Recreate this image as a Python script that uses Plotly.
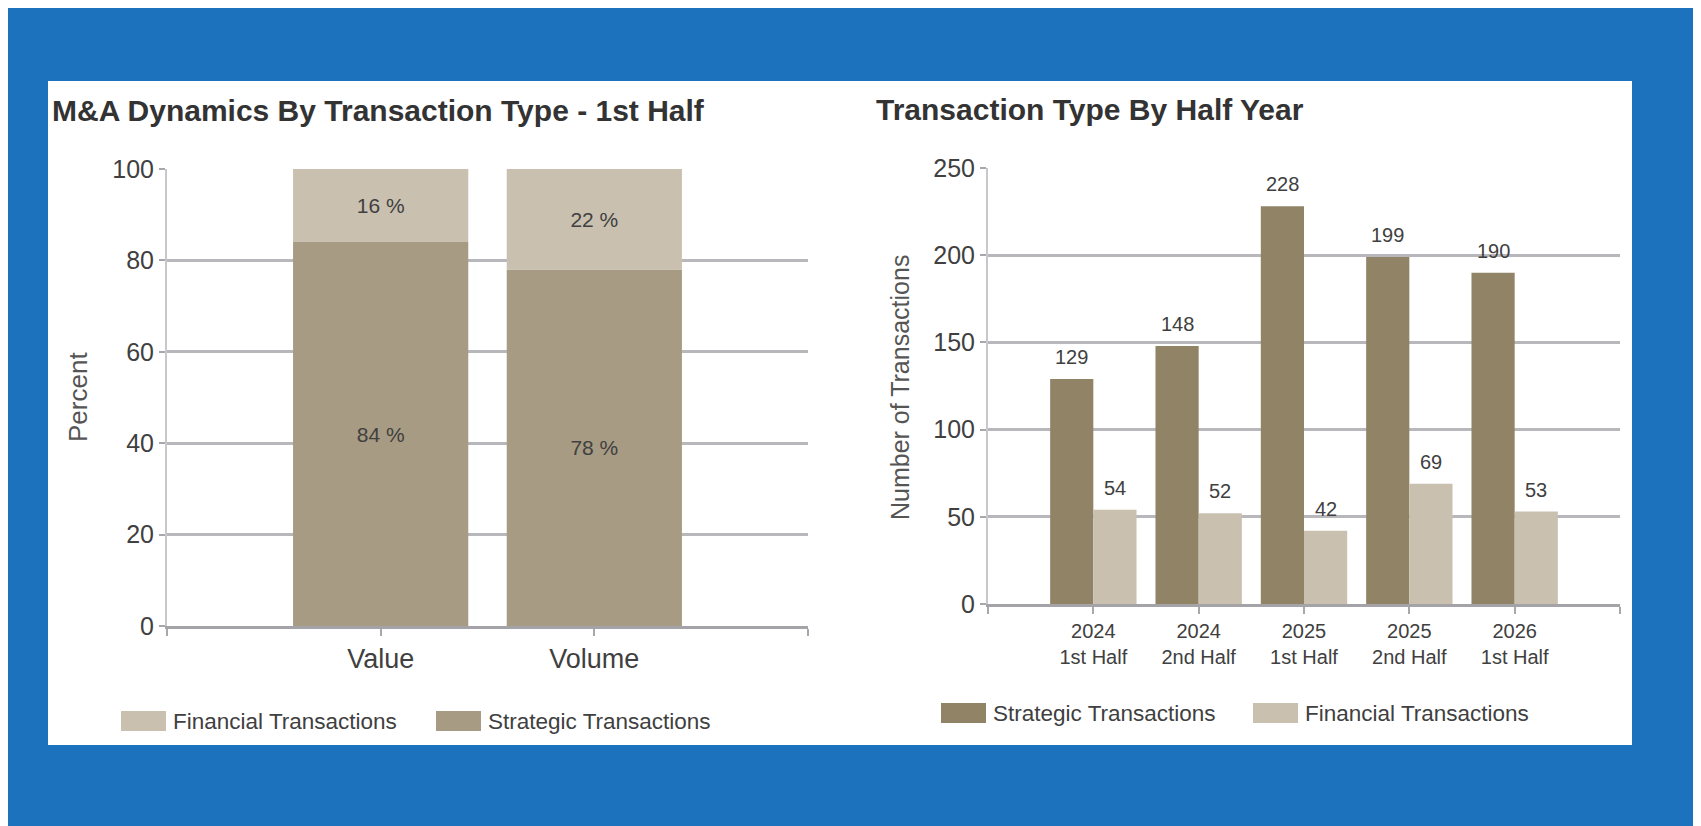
import plotly.graph_objects as go
from plotly.subplots import make_subplots

# left chart data (percent shares, 1st half)
share_cats = ["Value", "Volume"]
share_strategic = [84, 78]
share_financial = [16, 22]

# right chart data (number of transactions)
half_cats = ["2024<br>1st Half", "2024<br>2nd Half", "2025<br>1st Half",
             "2025<br>2nd Half", "2026<br>1st Half"]
count_strategic = [129, 148, 228, 199, 190]
count_financial = [54, 52, 42, 69, 53]

W, H = 1701, 826
OFF = 8  # page body margin, so positions below are window pixels
FONT = "Liberation Sans, Arial, sans-serif"
BLUE = "#1d72be"
STRAT_L = "#a79b83"
STRAT_R = "#918466"
FIN = "#c9c0b0"
GRID = "#b8b8bc"
TXT = "#404040"


def px_x(v):
    return (v - OFF) / W


def px_y(v):
    return 1 - (v - OFF) / H


fig = make_subplots(rows=1, cols=2)

# left: stacked by giving the financial bars a base
fig.add_trace(go.Bar(
    x=share_cats, y=share_strategic, name="Strategic Transactions",
    marker_color=STRAT_L, marker_line_width=0, offsetgroup="s",
    texttemplate="%{y} %", textposition="inside", insidetextanchor="middle",
    textfont=dict(size=21, color=TXT), showlegend=False,
), row=1, col=1)
fig.add_trace(go.Bar(
    x=share_cats, y=share_financial, base=share_strategic, name="Financial Transactions",
    marker_color=FIN, marker_line_width=0, offsetgroup="s",
    texttemplate="%{y} %", textposition="inside", insidetextanchor="middle",
    textfont=dict(size=21, color=TXT), showlegend=False,
), row=1, col=1)

# right: grouped bars
fig.add_trace(go.Bar(
    x=half_cats, y=count_strategic, name="Strategic Transactions",
    marker_color=STRAT_R, marker_line_width=0, showlegend=False,
), row=1, col=2)
fig.add_trace(go.Bar(
    x=half_cats, y=count_financial, name="Financial Transactions",
    marker_color=FIN, marker_line_width=0, showlegend=False,
), row=1, col=2)

axis_common = dict(showgrid=False, ticks="outside", tickcolor="#a8a8ac", ticklen=7,
                   tickwidth=2, showline=True, linecolor="#a4a4a8", linewidth=3,
                   fixedrange=True, automargin=False, tickmode="array")
yaxis_common = dict(showgrid=True, gridcolor=GRID, gridwidth=2.5, ticks="outside",
                    tickcolor="#a8a8ac", ticklen=6, tickwidth=2, showline=True,
                    linecolor="#c8c8cc", linewidth=2, zeroline=False, fixedrange=True,
                    automargin=False, tickfont=dict(size=25, color=TXT))

fig.update_xaxes(domain=[px_x(167), px_x(808)], range=[-1, 2],
                 tickvals=list(range(-1, len(share_cats) + 1)),
                 ticktext=[""] + share_cats + [""],
                 tickfont=dict(size=27, color=TXT), **axis_common, row=1, col=1)
fig.update_yaxes(domain=[px_y(626), px_y(169)], range=[0, 100], dtick=20,
                 **yaxis_common, row=1, col=1)
fig.update_xaxes(domain=[px_x(988), px_x(1620)], range=[-1, 5],
                 tickvals=list(range(-1, len(half_cats) + 1)),
                 ticktext=[""] + half_cats + [""],
                 tickfont=dict(size=20, color=TXT), **axis_common, row=1, col=2)
fig.update_yaxes(domain=[px_y(604), px_y(168)], range=[0, 250], dtick=50,
                 **yaxis_common, row=1, col=2)

# white card behind both charts
shapes = [dict(type="rect", xref="paper", yref="paper", layer="below",
               x0=px_x(48), x1=px_x(1632), y0=px_y(745), y1=px_y(81),
               fillcolor="white", line_width=0)]

annotations = [
    dict(text="<b>M&A Dynamics By Transaction Type - 1st Half</b>", x=px_x(50), y=px_y(111),
         xanchor="left", yanchor="middle", font=dict(size=30, color="#333333")),
    dict(text="<b>Transaction Type By Half Year</b>", x=px_x(874), y=px_y(110),
         xanchor="left", yanchor="middle", font=dict(size=30, color="#333333")),
    dict(text="Percent", x=px_x(78), y=px_y(397), textangle=-90,
         xanchor="center", yanchor="middle", font=dict(size=26, color="#555555")),
    dict(text="Number of Transactions", x=px_x(900), y=px_y(388), textangle=-90,
         xanchor="center", yanchor="middle", font=dict(size=25, color="#555555")),
]

# value labels above the grouped bars (half a bar slot left / right of each category)
for series, shift in ((count_strategic, -0.205), (count_financial, 0.205)):
    for i, v in enumerate(series):
        annotations.append(dict(text=str(v), x=i + shift, y=v, xref="x2", yref="y2",
                                yanchor="bottom", yshift=9, showarrow=False,
                                font=dict(size=20, color=TXT)))

# hand-drawn legends (wide swatches like the original)
legend_items = [
    (121, 721, FIN, "Financial Transactions"),
    (436, 721, STRAT_L, "Strategic Transactions"),
    (941, 713, STRAT_R, "Strategic Transactions"),
    (1253, 713, FIN, "Financial Transactions"),
]
for lx, ly, col, label in legend_items:
    shapes.append(dict(type="rect", xref="paper", yref="paper",
                       x0=px_x(lx), x1=px_x(lx + 45), y0=px_y(ly + 10), y1=px_y(ly - 10),
                       fillcolor=col, line_width=0))
    annotations.append(dict(text=label, x=px_x(lx + 50), y=px_y(ly), xref="paper",
                            yref="paper", xanchor="left", yanchor="middle",
                            showarrow=False, font=dict(size=22.5, color=TXT)))

for a in annotations[:4]:
    a.update(xref="paper", yref="paper", showarrow=False)

fig.update_layout(
    template="none",
    width=W, height=H,
    margin=dict(l=0, r=0, t=0, b=0, pad=0),
    paper_bgcolor=BLUE, plot_bgcolor="white",
    barmode="group", bargap=0.18, bargroupgap=0,
    font=dict(family=FONT, color=TXT),
    shapes=shapes, annotations=annotations,
    showlegend=False,
)

fig.write_html("out.html")
